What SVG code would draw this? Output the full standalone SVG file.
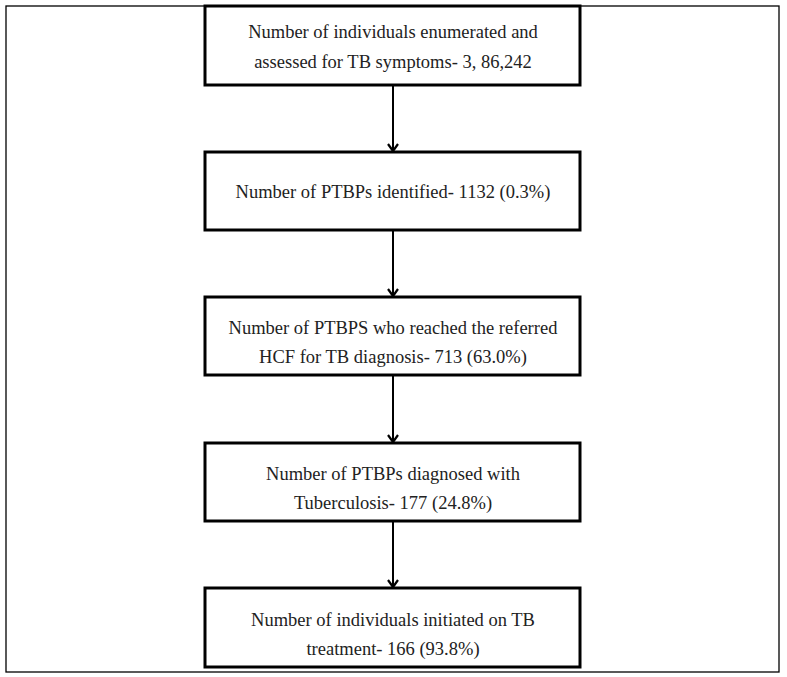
<svg xmlns="http://www.w3.org/2000/svg" width="787" height="677" viewBox="0 0 787 677">
<style>
.box{fill:#fff;stroke:#000;stroke-width:3}
.t{font-family:"Liberation Serif",serif;font-size:18.5px;fill:#222;text-anchor:middle}
.c{stroke:#000;stroke-width:2;fill:none}
</style>
<defs><marker id="a" markerWidth="12" markerHeight="12" refX="10" refY="6" orient="auto" markerUnits="userSpaceOnUse" viewBox="0 0 12 12"><path d="M3,1 L10,6 L3,11" fill="none" stroke="#000" stroke-width="2.2"/></marker></defs>
<rect width="787" height="677" fill="#fff"/>
<rect x="6" y="6" width="773" height="666" fill="none" stroke="#000" stroke-width="1.3"/>
<g id="connectors">
<line class="c" x1="393" y1="85" x2="393" y2="151" marker-end="url(#a)"/>
<line class="c" x1="393" y1="230" x2="393" y2="296" marker-end="url(#a)"/>
<line class="c" x1="393" y1="375" x2="393" y2="442" marker-end="url(#a)"/>
<line class="c" x1="393" y1="521" x2="393" y2="587" marker-end="url(#a)"/>
</g>
<g id="n1"><rect class="box" x="205" y="6" width="375" height="79"/><text class="t" x="393" y="38">Number of individuals enumerated and</text><text class="t" x="393" y="68">assessed for TB symptoms- 3, 86,242</text></g>
<g id="n2"><rect class="box" x="205" y="152" width="375" height="78"/><text class="t" x="393" y="198">Number of PTBPs identified- 1132 (0.3%)</text></g>
<g id="n3"><rect class="box" x="205" y="297" width="375" height="78"/><text class="t" x="393" y="334">Number of PTBPS who reached the referred</text><text class="t" x="393" y="363">HCF for TB diagnosis- 713 (63.0%)</text></g>
<g id="n4"><rect class="box" x="205" y="443" width="375" height="78"/><text class="t" x="393" y="480">Number of PTBPs diagnosed with</text><text class="t" x="393" y="509">Tuberculosis- 177 (24.8%)</text></g>
<g id="n5"><rect class="box" x="205" y="588" width="375" height="79"/><text class="t" x="393" y="626">Number of individuals initiated on TB</text><text class="t" x="393" y="655">treatment- 166 (93.8%)</text></g>
</svg>
